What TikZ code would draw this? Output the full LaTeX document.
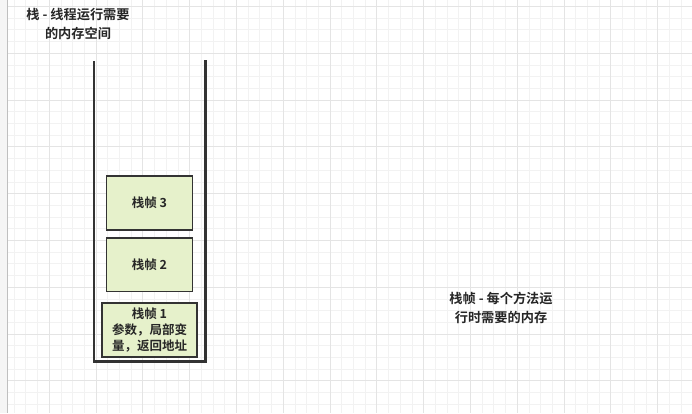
\documentclass[tikz,border=0pt]{standalone}
\usepackage{fontspec}
\newfontfamily\cjk{Noto Sans CJK SC Bold}
\definecolor{gridminor}{HTML}{F2F2F2}
\definecolor{gridmajor}{HTML}{E4E4E4}
\definecolor{framefill}{HTML}{E6F1CB}
\definecolor{edge}{HTML}{333333}
\tikzset{
  framebox/.style={draw=edge, line width=1.8pt, fill=framefill, minimum width=86pt, minimum height=53.5pt, inner sep=0pt, align=center, font=\cjk\fontsize{12.5}{16}\selectfont, text=black!85},
  label/.style={align=center, font=\cjk\fontsize{13.2}{18.5}\selectfont, text=black!85},
  wall/.style={draw=edge, line width=2.2pt}
}
\begin{document}
\begin{tikzpicture}[x=1pt,y=-1pt]
\useasboundingbox (0,0) rectangle (692,413);
\fill[white] (0,0) rectangle (692,413);
\fill[black!4] (0,0) rectangle (7,413);
% grid
\foreach \i in {-30,...,60} {
  \pgfmathsetmacro{\xx}{330+\i*11.7}
  \ifdim \xx pt>7pt \ifdim \xx pt<692pt
    \draw[gridminor, line width=0.8pt] (\xx,0) -- (\xx,413);
  \fi\fi
}
\foreach \i in {-30,...,40} {
  \pgfmathsetmacro{\yy}{100+\i*11.7}
  \ifdim \yy pt>0pt \ifdim \yy pt<413pt
    \draw[gridminor, line width=0.8pt] (7,\yy) -- (692,\yy);
  \fi\fi
}
\foreach \i in {-8,...,15} {
  \pgfmathsetmacro{\xx}{330+\i*46.8}
  \ifdim \xx pt>7pt \ifdim \xx pt<692pt
    \draw[gridmajor, line width=0.9pt] (\xx,0) -- (\xx,413);
  \fi\fi
}
\foreach \i in {-4,...,8} {
  \pgfmathsetmacro{\yy}{100+\i*46.8}
  \ifdim \yy pt>0pt \ifdim \yy pt<413pt
    \draw[gridmajor, line width=0.9pt] (7,\yy) -- (692,\yy);
  \fi\fi
}
\draw[black!25, line width=1pt] (7,0) -- (7,413);
% title
\node[label] (title) at (78,24) {栈 - 线程运行需要\\的内存空间};
% stack container
\coordinate (tl) at (94,61);
\coordinate (bl) at (94,361.5);
\coordinate (br) at (205.5,361.5);
\coordinate (tr) at (205.5,60);
\draw[wall] (tl) -- (bl) -- (br) -- (tr);
% frames
\node[framebox] (f3) at (149.5,203) {栈帧 3};
\node[framebox] (f2) at (149.5,264.7) {栈帧 2};
\node[framebox, minimum width=95pt] (f1) at (149.5,330) {栈帧 1\\参数，局部变\\量，返回地址};
% right label
\node[label] (desc) at (501,308) {栈帧 - 每个方法运\\行时需要的内存};
\end{tikzpicture}
\end{document}
